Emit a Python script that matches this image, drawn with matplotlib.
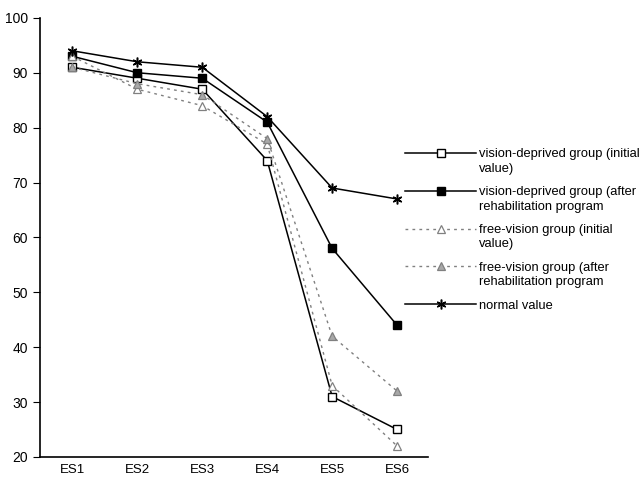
import numpy as np
import matplotlib.pyplot as plt

plt.rcParams['font.family'] = ['Liberation Sans', 'DejaVu Sans']

stages = ["ES1", "ES2", "ES3", "ES4", "ES5", "ES6"]
vd_initial = [91, 89, 87, 74, 31, 25]
vd_after = [93, 90, 89, 81, 58, 44]
fv_initial = [93, 87, 84, 77, 33, 22]
fv_after = [91, 88, 86, 78, 42, 32]
normal = [94, 92, 91, 82, 69, 67]

# legend labels: first line goes in the legend, second line drawn under it
first_lines = ["vision-deprived group (initial",
               "vision-deprived group (after",
               "free-vision group (initial",
               "free-vision group (after",
               "normal value"]
second_lines = ["value)", "rehabilitation program", "value)",
                "rehabilitation program", ""]

x = np.arange(len(stages))

fig = plt.figure(figsize=(6.44, 4.83), dpi=100)
ax = fig.add_axes([0.062, 0.054, 0.603, 0.909])

ax.plot(x, vd_initial, '-', color='black', lw=1.1, marker='s', ms=5.5,
        mfc='white', mec='black', mew=1.0, label=first_lines[0])
ax.plot(x, vd_after, '-', color='black', lw=1.1, marker='s', ms=5.5,
        mfc='black', mec='black', label=first_lines[1])
ax.plot(x, fv_initial, linestyle=(0, (2, 3)), color='#808080', lw=1.0, marker='^', ms=5.5,
        mfc='white', mec='#808080', mew=0.9, label=first_lines[2])
ax.plot(x, fv_after, linestyle=(0, (2, 3)), color='#808080', lw=1.0, marker='^', ms=5.5,
        mfc='#a8a8a8', mec='#808080', mew=0.9, label=first_lines[3])
ax.plot(x, normal, '-', color='black', lw=1.1, marker=(6, 2, 0), ms=7,
        mec='black', mew=1.1, label=first_lines[4])

ax.set_xlim(-0.5, 5.48)
ax.set_ylim(20, 100)
ax.set_yticks(range(20, 101, 10))
ax.set_xticks(x)
ax.set_xticklabels(stages)
ax.tick_params(axis='x', length=0, pad=5, labelsize=9.5)
ax.tick_params(axis='y', length=5, labelsize=10)
for s in ['top', 'right']:
    ax.spines[s].set_visible(False)
ax.spines['left'].set_linewidth(1.2)
ax.spines['bottom'].set_linewidth(1.2)

fs = 9.3
leg = fig.legend(loc='upper left', bbox_to_anchor=(0.629, 0.693), frameon=False,
                 fontsize=fs, handlelength=5.5, labelspacing=2.0, handletextpad=0.2,
                 borderpad=0, borderaxespad=0)

fig.canvas.draw()
inv = fig.transFigure.inverted()
for t, extra in zip(leg.get_texts(), second_lines):
    if not extra:
        continue
    bb = t.get_window_extent()
    x0, y0 = inv.transform((bb.x0, bb.y0))
    fig.text(x0, y0 - 0.005, extra, fontsize=fs, va='top', ha='left')

plt.savefig('out.png', dpi=100)
